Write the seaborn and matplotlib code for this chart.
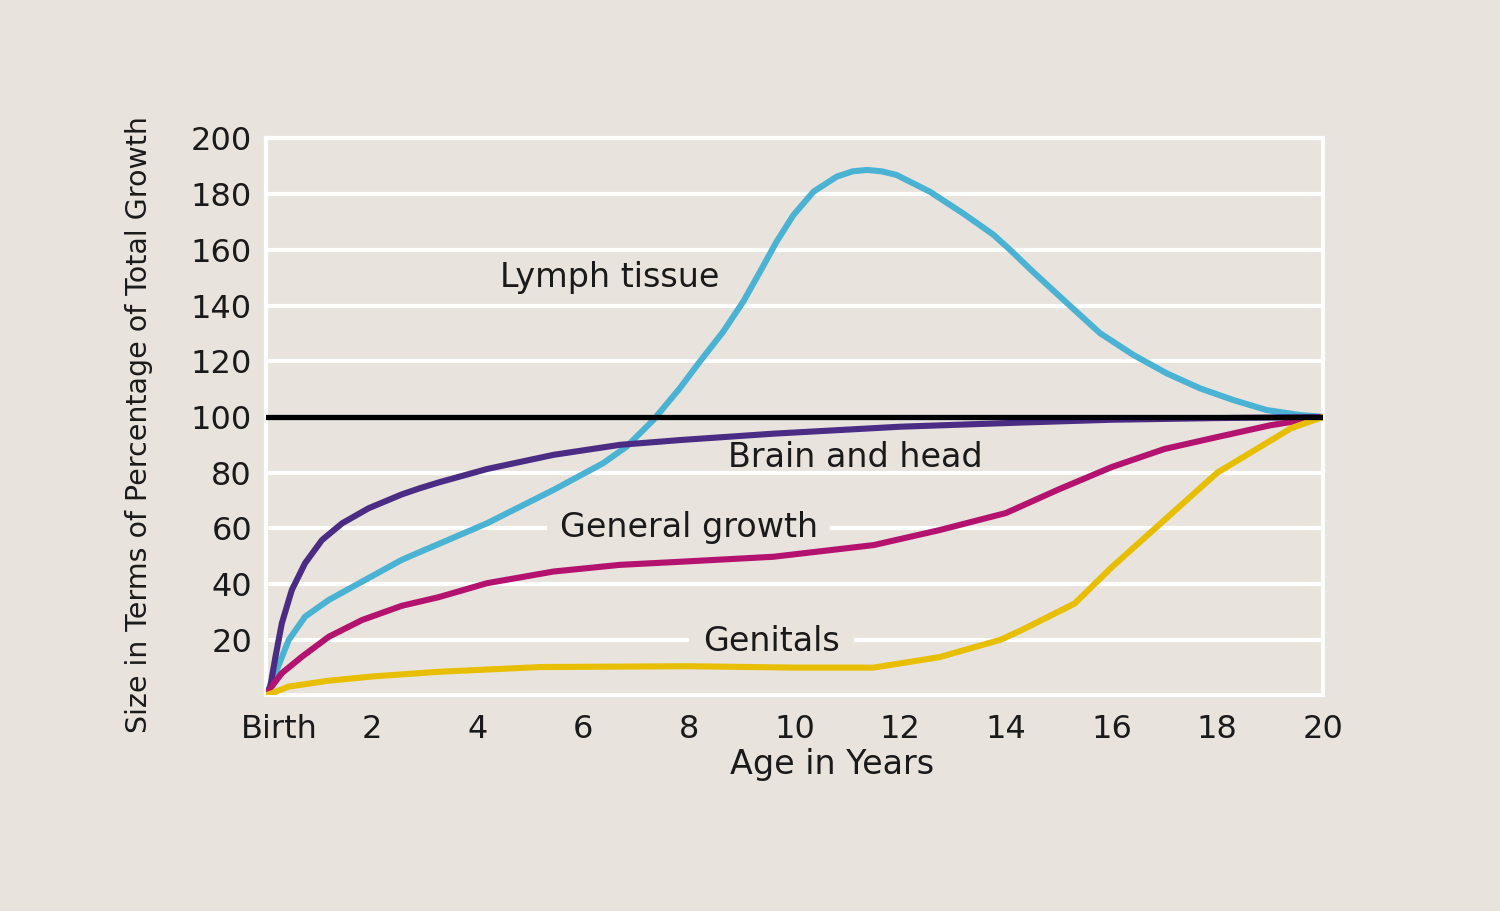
import numpy as np
import pandas as pd
import seaborn as sns
import matplotlib.pyplot as plt
import matplotlib.transforms as mtransforms

# values (age in years, % of total growth at 20)
lymph_age = [0, 0.18, 0.43, 0.74, 1.19, 1.82, 2.57, 2.91, 3.27, 4.18, 5.44, 6.38, 6.82, 7.33,
             7.83, 8.21, 8.65, 9.03, 9.35, 9.66, 9.98, 10.36, 10.8, 11.1, 11.37, 11.65, 11.93, 12.56,
             13.19, 13.76, 14.08, 14.52, 15.15, 15.78, 16.41, 17.04, 17.67, 18.3, 18.93, 19.56, 20]
lymph_size = [0, 8, 19.9, 28.3, 34.3, 40.9, 48.7, 51.5, 54.4, 61.8, 73.8, 83.4, 89.3, 98.9,
              110.3, 119.9, 130.6, 141.4, 152.2, 162.9, 172.5, 180.9, 186.3, 188.2, 188.7, 188.2, 186.9, 180.9,
              173.1, 165.5, 160, 152, 141, 130.1, 122.3, 115.7, 110.3, 106.1, 102.5, 100.7, 100]

brain_age = [0, 0.08, 0.18, 0.3, 0.49, 0.74, 1.06, 1.44, 1.94, 2.57, 2.91, 3.27, 4.18,
             5.44, 6.7, 7.83, 9.6, 12, 14.3, 16, 18, 20]
brain_size = [0, 3, 13.9, 25.9, 37.9, 47.5, 55.8, 61.8, 67.2, 72.2, 74.4, 76.5, 81.3,
              86.4, 90, 91.7, 94, 96.5, 98, 99, 99.6, 100]

general_age = [0, 0.3, 0.68, 1.19, 1.82, 2.57, 2.91, 3.27, 4.18, 5.44, 6.7, 7.83, 9.6,
               11.5, 12.75, 14, 15, 16, 17, 18, 19, 20]
general_size = [0.5, 8, 13.9, 21.1, 27.1, 32.2, 33.7, 35.3, 40.3, 44.5, 46.9, 48, 49.8,
                54, 59.4, 65.5, 74, 82, 88.5, 92.8, 97, 100]

genital_age = [0, 0.11, 0.43, 1.19, 2, 3.27, 5.18, 8, 10, 11.5, 12.75, 13.9, 14.3, 15.3,
               16, 17, 18, 18.7, 19.4, 20]
genital_size = [0, 0.8, 3.2, 5.3, 6.8, 8.5, 10.2, 10.5, 10, 10, 13.8, 20, 23.5, 33,
                46, 63, 80, 88, 96, 100]

series_names = ["Lymph tissue", "Brain and head", "General growth", "Genitals"]
x_ticks = list(range(0, 21, 2))
x_labels = ["Birth"] + [str(v) for v in x_ticks[1:]]
y_ticks = list(range(20, 201, 20))

bg = "#E9E3DD"
ink = "#1a1a1a"
colors = {"Lymph tissue": "#4AB3D4", "Brain and head": "#4B2C85",
          "General growth": "#B3126F", "Genitals": "#E8BF00"}

frames = []
for name, ages, sizes in zip(series_names,
                             [lymph_age, brain_age, general_age, genital_age],
                             [lymph_size, brain_size, general_size, genital_size]):
    frames.append(pd.DataFrame({"age": ages, "size": sizes, "tissue": name}))
df = pd.concat(frames, ignore_index=True)

sns.set_theme(style="white")
plt.rcParams['font.family'] = ['DejaVu Sans']

fig = plt.figure(figsize=(15, 9.11), dpi=100, facecolor=bg)
ax = fig.add_axes([0.1773, 0.2366, 0.7047, 0.6114])
ax.set_facecolor(bg)

ax.axhline(100, color="black", lw=3.8, zorder=4)
sns.lineplot(data=df, x="age", y="size", hue="tissue", palette=colors,
             linewidth=4.4, legend=False, ax=ax, sort=False, zorder=3,
             solid_joinstyle="round", solid_capstyle="round")

ax.set_xlim(0, 20)
ax.set_ylim(0, 200)
ax.set_xticks(x_ticks)
ax.set_xticklabels(x_labels)
ax.set_yticks(y_ticks)
ax.yaxis.grid(True, color="white", lw=3)
ax.xaxis.grid(False)
ax.set_axisbelow(True)

for s in ax.spines.values():
    s.set_color("white")
    s.set_linewidth(3)
    s.set_zorder(2)

ax.tick_params(axis="y", length=0, pad=10, labelsize=23, labelcolor=ink)
ax.tick_params(axis="x", direction="in", length=11, width=3, color="white",
               pad=13, labelsize=23, labelcolor=ink)
xt = ax.xaxis.get_major_ticks()
xt[0].tick1line.set_visible(False)
xt[-1].tick1line.set_visible(False)
# "Birth" sits a little right of the origin
off = mtransforms.ScaledTranslation(13 / 100, 0, fig.dpi_scale_trans)
lab0 = ax.get_xticklabels()[0]
lab0.set_transform(lab0.get_transform() + off)

ax.set_xlabel("Age in Years", fontsize=24, color=ink)
ax.set_ylabel("Size in Terms of Percentage of Total Growth", fontsize=20.5, color=ink)
ax.xaxis.set_label_coords(0.536, -0.095)
ax.yaxis.set_label_coords(-0.107, 0.486)

txt_kw = dict(fontsize=24, color=ink, ha="center", va="center", zorder=2.5)
ax.text(6.5, 150, "Lymph tissue", **txt_kw)
ax.text(11.15, 85.6, "Brain and head", **txt_kw)
ax.text(8.0, 60.3, "General growth",
        bbox=dict(facecolor=bg, edgecolor="none", pad=9), **txt_kw)
ax.text(9.57, 19.3, "Genitals",
        bbox=dict(facecolor=bg, edgecolor="none", pad=10), **txt_kw)

plt.savefig("out.png", dpi=100, facecolor=bg)
plt.close(fig)
